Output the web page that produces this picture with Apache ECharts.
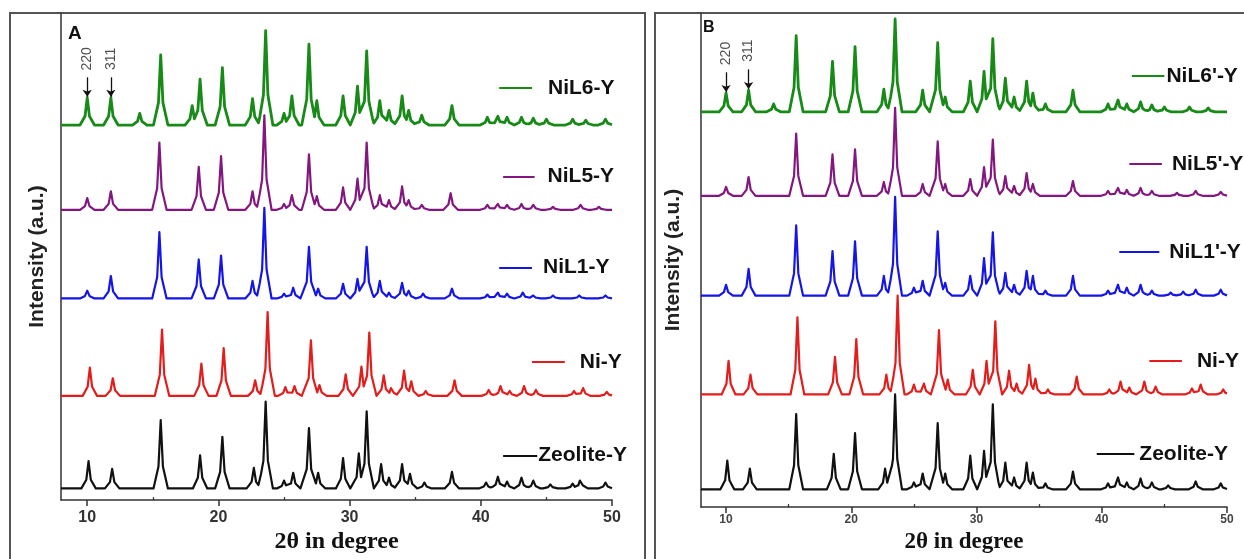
<!DOCTYPE html>
<html>
<head>
<meta charset="utf-8">
<script src="https://cdn.jsdelivr.net/npm/echarts@6/dist/echarts.min.js"></script>
<style>
  html, body { margin: 0; padding: 0; background: #ffffff; }
  #chart { width: 1244px; height: 559px; }
</style>
</head>
<body>
<div id="chart"></div>
<script>
// ---------- data ----------
// 2θ range and tick positions
const thetaMin = 8;
const thetaMax = 50;
const majorTicks = [10, 20, 30, 40, 50];
const minorTicks = [15, 25, 35, 45];

// pattern names, bottom to top
const namesA = ['Zeolite-Y', 'Ni-Y', 'NiL1-Y', 'NiL5-Y', 'NiL6-Y'];
const namesB = ['Zeolite-Y', 'Ni-Y', "NiL1'-Y", "NiL5'-Y", "NiL6'-Y"];

// vertical offset of each stacked pattern (a.u.)
const offsetsA = [12, 107, 207, 298, 385];
const offsetsB = [18, 114, 214, 315, 400];

// reflections: [2θ (deg), intensity above baseline (a.u.)]
const zeoliteA = [[10.1,28],[11.9,20],[15.6,70],[18.6,34],[20.3,53],[22.7,21],[23.6,89],[25.0,8],[25.7,16],[26.9,62],[27.6,16],[29.5,31],[30.7,36],[31.3,79],[32.4,25],[33.0,11],[34.0,25],[34.6,15],[35.7,6],[37.8,17],[40.4,6],[41.3,12],[42.0,7],[43.1,11],[44.0,8],[45.3,4],[47.0,5],[47.6,10],[49.5,6]];
const niYA = [[10.2,29],[11.95,18],[15.7,68],[18.7,33],[20.4,49],[22.8,16],[23.75,86],[25.1,9],[25.8,10],[27.05,57],[27.7,11],[29.7,22],[30.9,30],[31.5,65],[32.6,21],[33.2,10],[34.15,26],[34.7,15],[35.8,5],[38.0,16],[40.6,6],[41.5,10],[42.2,5],[43.3,10],[44.2,6],[47.1,5],[47.8,8],[49.6,4]];
const niL1A = [[10.0,8],[11.8,23],[15.5,68],[18.5,40],[20.2,44],[22.6,18],[23.5,93],[25.0,5],[25.7,11],[26.9,53],[27.6,10],[29.5,15],[30.6,20],[31.3,53],[32.3,18],[33.0,6],[34.0,16],[34.5,8],[35.6,5],[37.8,10],[40.5,4],[41.3,6],[42.0,5],[43.2,6],[44.0,3],[45.5,3],[47.5,3],[49.5,3]];
const niL5A = [[10.0,12],[11.8,19],[15.5,69],[18.5,44],[20.2,55],[22.6,19],[23.5,97],[25.0,6],[25.6,15],[26.9,57],[27.5,14],[29.5,23],[30.6,32],[31.3,69],[32.3,15],[33.0,10],[34.0,24],[34.5,10],[35.5,5],[37.7,17],[40.5,5],[41.3,6],[42.0,5],[43.1,6],[44.0,5],[45.5,3],[47.6,5],[49.0,3]];
const niL6A = [[10.0,28],[11.8,28],[14.0,12],[15.6,72],[18.0,20],[18.6,47],[20.3,59],[22.6,27],[23.6,97],[25.0,12],[25.6,30],[26.9,83],[27.5,25],[29.5,30],[30.6,40],[31.3,76],[32.3,25],[33.0,15],[34.0,30],[34.5,15],[35.5,10],[37.8,20],[40.5,8],[41.3,9],[42.0,8],[43.1,8],[44.0,7],[45.0,6],[47.0,6],[48.0,5],[49.5,6]];

const zeoliteB = [[10.1,29],[11.9,21],[15.6,76],[18.6,36],[20.3,57],[22.7,21],[23.5,96],[25.0,7],[25.7,16],[26.9,67],[27.5,16],[29.5,34],[30.6,39],[31.3,86],[32.3,27],[33.0,12],[34.0,27],[34.5,17],[35.5,6],[37.7,18],[40.5,6],[41.3,12],[42.0,7],[43.1,11],[44.0,7],[45.3,4],[47.5,8],[49.5,6]];
const niYB = [[10.2,34],[11.95,20],[15.7,78],[18.7,38],[20.4,56],[22.8,20],[23.7,100],[25.0,10],[25.8,11],[27.0,65],[27.7,15],[29.7,25],[30.8,34],[31.5,74],[32.6,24],[33.2,11],[34.2,30],[34.7,16],[35.7,5],[38.0,18],[40.6,5],[41.5,13],[42.2,7],[43.4,13],[44.3,8],[47.2,6],[47.9,10],[49.7,5]];
const niL1B = [[10.0,11],[11.8,27],[15.6,71],[18.5,45],[20.3,55],[22.6,20],[23.5,100],[25.0,8],[25.7,15],[26.9,65],[27.5,13],[29.5,20],[30.6,38],[31.3,64],[32.3,23],[33.0,11],[34.0,25],[34.5,20],[35.5,5],[37.7,20],[40.5,5],[41.3,11],[42.0,8],[43.1,11],[44.0,5],[45.5,3],[46.5,4],[47.5,6],[49.5,6]];
const niL5B = [[10.0,9],[11.8,19],[15.6,63],[18.5,42],[20.3,47],[22.6,14],[23.5,89],[25.7,12],[26.9,55],[27.5,12],[29.5,17],[30.6,29],[31.3,57],[32.3,20],[33.0,10],[34.0,23],[34.5,12],[37.7,15],[40.5,5],[41.3,8],[42.0,6],[43.1,8],[44.0,5],[46.0,3],[47.5,5],[49.5,4]];
const niL6B = [[10.0,19],[11.8,22],[13.8,8],[15.6,77],[18.5,51],[20.3,66],[22.6,23],[23.5,94],[25.7,22],[26.9,70],[27.5,15],[29.5,31],[30.6,41],[31.3,74],[32.3,34],[33.0,15],[34.0,31],[34.5,19],[35.5,8],[37.7,22],[40.5,8],[41.3,12],[42.0,8],[43.1,10],[44.0,7],[45.0,5],[47.0,5],[48.5,4]];

// indexed reflections marked on the top pattern
const hklLabels = ['220', '311'];
const hklPositions = [10.0, 11.8];

// ---------- drawing ----------
const colors = ['#111111', '#e31c1c', '#1515e8', '#82177f', '#178a17'];
const patternsA = [zeoliteA, niYA, niL1A, niL5A, niL6A];
const patternsB = [zeoliteB, niYB, niL1B, niL5B, niL6B];

// name-tag placement per pattern: [x start, x end, y, text gap]
const tagsA = [[41.7, 44.3, 46, 1], [43.9, 46.4, 142, 15], [41.4, 43.9, 239, 11], [41.7, 44.1, 332, 13], [41.4, 43.9, 423, 16]];
const tagsB = [[39.6, 42.6, 54, 5], [43.8, 46.4, 148, 15], [41.4, 44.6, 258, 10], [42.2, 44.8, 347, 10], [42.4, 45.0, 436, 2]];

// peak shape: sharp apex with flared shoulders (deg)
const HALF_BASE = 0.55, HALF_SHOULDER = 0.17, SHOULDER_FRAC = 0.32;
function peakAt(p, x) {
  const d = Math.abs(x - p[0]);
  if (d >= HALF_BASE) return 0;
  if (d <= HALF_SHOULDER) return p[1] * (1 - (1 - SHOULDER_FRAC) * d / HALF_SHOULDER);
  return p[1] * SHOULDER_FRAC * (HALF_BASE - d) / (HALF_BASE - HALF_SHOULDER);
}
function profile(peaks, offset) {
  const xs = [thetaMin, thetaMax];
  peaks.forEach(p => xs.push(p[0] - HALF_BASE, p[0] - HALF_SHOULDER, p[0], p[0] + HALF_SHOULDER, p[0] + HALF_BASE));
  xs.sort((a, b) => a - b);
  return xs.filter(x => x >= thetaMin && x <= thetaMax)
           .map(x => [x, offset + Math.max(0, ...peaks.map(p => peakAt(p, x)))]);
}

const SANS = 'Liberation Sans, Arial, sans-serif';
const SERIF = 'Liberation Serif, Times New Roman, serif';

function patternSeries(names, patterns, offsets, tags, xIdx, yIdx) {
  return patterns.map((peaks, i) => ({
    type: 'line',
    name: names[i],
    xAxisIndex: xIdx, yAxisIndex: yIdx,
    data: profile(peaks, offsets[i]),
    showSymbol: false, symbol: 'none', smooth: false,
    lineStyle: { color: colors[i], width: i === 4 ? 2.8 : 2.2, join: 'round' },
    emphasis: { disabled: true }, silent: true, animation: false,
    markLine: {
      silent: true, symbol: 'none', animation: false,
      lineStyle: { color: colors[i], width: 2, type: 'solid' },
      label: {
        show: true, position: 'end', formatter: names[i], distance: tags[i][3],
        color: '#111', fontFamily: SANS, fontWeight: 'bold', fontSize: 21
      },
      emphasis: { disabled: true },
      data: [[{ coord: [tags[i][0], tags[i][2]] }, { coord: [tags[i][1], tags[i][2]] }]]
    }
  }));
}

function hklSeries(topPeaks, topOffset, xIdx, yIdx) {
  const apex = hklPositions.map(x => {
    const pk = topPeaks.reduce((a, b) => Math.abs(b[0] - x) < Math.abs(a[0] - x) ? b : a);
    return topOffset + pk[1];
  });
  return {
    type: 'scatter', xAxisIndex: xIdx, yAxisIndex: yIdx,
    symbolSize: 0, silent: true, animation: false,
    data: hklPositions.map((x, i) => ({ value: [x, apex[i] + 40], name: hklLabels[i] })),
    label: {
      show: true, position: 'inside', rotate: 90, formatter: '{b}',
      color: '#222', fontFamily: SANS, fontSize: 14
    },
    markLine: {
      silent: true, animation: false, symbol: ['none', 'arrow'], symbolSize: 7,
      lineStyle: { color: '#111', width: 1.3, type: 'solid' },
      label: { show: false },
      data: hklPositions.map((x, i) => [{ coord: [x, apex[i] + 21] }, { coord: [x, apex[i] + 1] }])
    }
  };
}

function mainXAxis(grid, labelSize, labelColor, labelMargin, nameSize, nameGap) {
  return {
    type: 'value', gridIndex: grid, min: thetaMin, max: thetaMax,
    axisLine: { show: true, onZero: false, lineStyle: { color: '#333', width: 1.5 } },
    axisTick: { show: true, inside: false, length: 6, customValues: majorTicks, lineStyle: { color: '#333', width: 1.5 } },
    axisLabel: { show: true, customValues: majorTicks, margin: labelMargin, color: labelColor,
                 fontFamily: SANS, fontWeight: 'bold', fontSize: labelSize },
    splitLine: { show: false },
    name: '2θ in degree', nameLocation: 'middle', nameGap: nameGap,
    nameTextStyle: { fontFamily: SERIF, fontWeight: 'bold', fontSize: nameSize, color: '#111' }
  };
}
function minorXAxis(grid) {
  return {
    type: 'value', gridIndex: grid, min: thetaMin, max: thetaMax,
    axisLine: { show: false },
    axisTick: { show: true, inside: false, length: 3, customValues: minorTicks, lineStyle: { color: '#333', width: 1.3 } },
    axisLabel: { show: false },
    splitLine: { show: false }
  };
}
function yAxisFor(grid, nameGap) {
  return {
    type: 'value', gridIndex: grid, min: 0, max: 500,
    axisLine: { show: true, lineStyle: { color: '#333', width: 1.5 } },
    axisTick: { show: false }, axisLabel: { show: false }, splitLine: { show: false },
    name: 'Intensity (a.u.)', nameLocation: 'middle', nameGap: nameGap,
    nameTextStyle: { fontFamily: SANS, fontWeight: 'bold', fontSize: 21, color: '#222' }
  };
}

const chart = echarts.init(document.getElementById('chart'), null, { renderer: 'canvas' });
chart.setOption({
  backgroundColor: '#ffffff',
  animation: false,
  grid: [
    { left: 61, top: 13, width: 551, height: 497 },
    { left: 701, top: 13, width: 526, height: 504 }
  ],
  xAxis: [
    mainXAxis(0, 16, '#333', 9, 24, 26),
    minorXAxis(0),
    mainXAxis(1, 12, '#444', 7, 23, 21),
    minorXAxis(1)
  ],
  yAxis: [yAxisFor(0, 13), yAxisFor(1, 17)],
  series: [
    ...patternSeries(namesA, patternsA, offsetsA, tagsA, 0, 0),
    hklSeries(niL6A, offsetsA[4], 0, 0),
    ...patternSeries(namesB, patternsB, offsetsB, tagsB, 2, 1),
    hklSeries(niL6B, offsetsB[4], 2, 1)
  ],
  graphic: [
    { type: 'rect', silent: true, shape: { x: 10, y: 13, width: 635, height: 560 },
      style: { fill: 'none', stroke: '#555', lineWidth: 2 } },
    { type: 'rect', silent: true, shape: { x: 655, y: 13, width: 600, height: 560 },
      style: { fill: 'none', stroke: '#555', lineWidth: 2 } },
    { type: 'text', silent: true, left: 68, top: 24,
      style: { text: 'A', fontFamily: SANS, fontWeight: 'bold', fontSize: 19, fill: '#111' } },
    { type: 'text', silent: true, left: 703, top: 20,
      style: { text: 'B', fontFamily: SANS, fontWeight: 'bold', fontSize: 16, fill: '#111' } }
  ]
});
</script>
</body>
</html>
